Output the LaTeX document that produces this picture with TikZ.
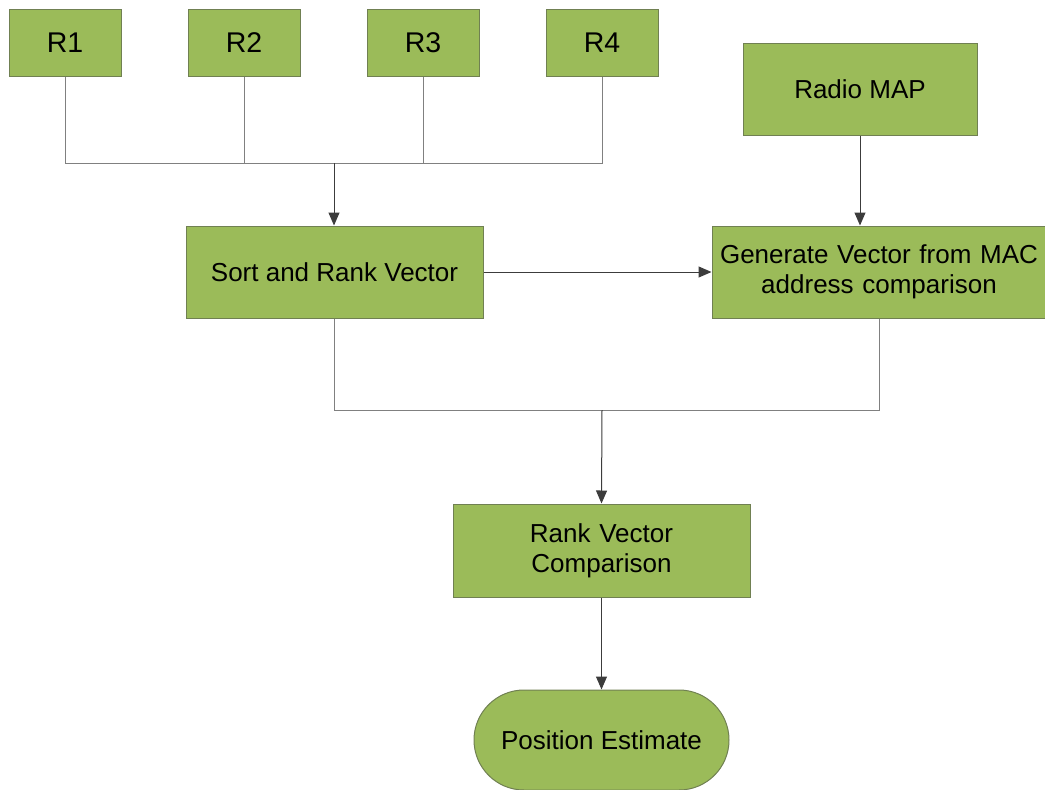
\documentclass[tikz,border=0pt]{standalone}
\usepackage{fontspec}
\setmainfont{Liberation Sans}
\usetikzlibrary{arrows.meta}
\definecolor{boxfill}{RGB}{155,187,89}
\definecolor{boxline}{RGB}{112,128,82}
\definecolor{conn}{RGB}{128,128,128}
\definecolor{arr}{RGB}{60,60,60}
\tikzset{
  stepbox/.style={draw=boxline, fill=boxfill, line width=1pt, inner sep=0pt, align=center,
    font=\fontsize{26}{32}\selectfont},
  rbox/.style={stepbox, minimum width=112pt, minimum height=67pt, font=\fontsize{28.5}{34}\selectfont},
  link/.style={draw=conn, line width=1pt},
  arrowlink/.style={draw=arr, line width=1pt, -{Triangle[length=13pt,width=11pt]}},
}
\begin{document}
\begin{tikzpicture}[x=1pt,y=-1pt]
\useasboundingbox (0,0) rectangle (1045,790);
\node[rbox] (r1) at (65,42.5) {R1};
\node[rbox] (r2) at (244,42.5) {R2};
\node[rbox] (r3) at (423,42.5) {R3};
\node[rbox] (r4) at (602,42.5) {R4};
\node[stepbox, minimum width=234pt, minimum height=92pt] (radio) at (860,89) {Radio MAP};
\node[stepbox, minimum width=297pt, minimum height=92pt] (sort) at (334.5,272) {Sort and Rank Vector};
\node[stepbox, minimum width=334pt, minimum height=92pt, text width=330pt] (gen) at (879,272) {Generate Vector from MAC\\[-2pt]address comparison};
\node[stepbox, minimum width=297pt, minimum height=93pt, text width=290pt] (rvc) at (601.5,550.5) {Rank Vector\\[-2pt]Comparison};
\node[stepbox, minimum width=255pt, minimum height=100pt, rounded corners=50pt] (pos) at (601.5,740) {Position Estimate};

\coordinate (j1) at (334,163);
\coordinate (j2) at (602,410);
\draw[link] (r1.south) |- (r4.south |- j1) -- (r4.south);
\draw[link] (r2.south) -- (r2.south |- j1);
\draw[link] (r3.south) -- (r3.south |- j1);
\draw[arrowlink] (j1) -- (j1 |- sort.north);
\draw[arrowlink] (radio.south) -- (radio.south |- gen.north);
\draw[arrowlink] (sort.east) -- (gen.west);
\draw[link] (sort.south -| j1) |- (gen.south |- j2) -- (gen.south);
\draw[arrowlink] (j2) -- (rvc.north);
\draw[arrowlink] (rvc.south) -- (pos.north);
\end{tikzpicture}
\end{document}
